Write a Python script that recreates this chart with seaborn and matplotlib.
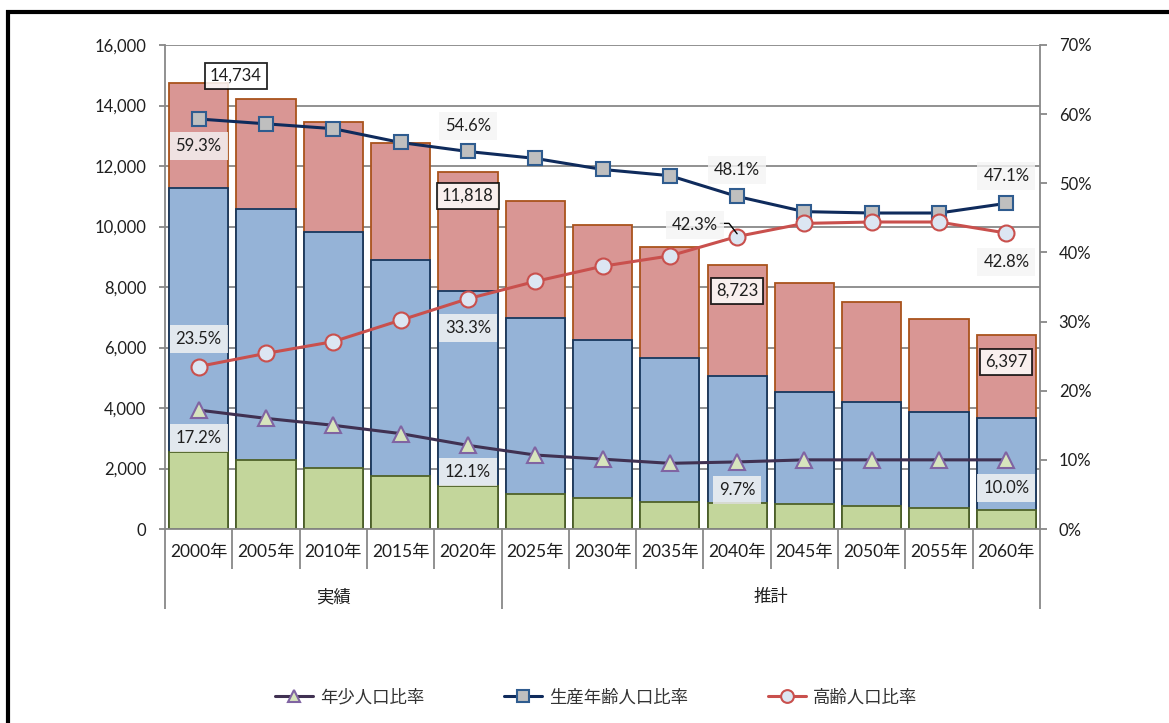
import numpy as np
import pandas as pd
import matplotlib
matplotlib.use("Agg")
import matplotlib.pyplot as plt
from matplotlib.lines import Line2D
from matplotlib.ticker import FuncFormatter, MultipleLocator
import seaborn as sns

# ---- data -------------------------------------------------------------
years = ["2000年", "2005年", "2010年", "2015年", "2020年", "2025年", "2030年",
         "2035年", "2040年", "2045年", "2050年", "2055年", "2060年"]
# population by age group (persons)
young = [2534, 2272, 2019, 1760, 1430, 1160, 1015, 886, 846, 812, 751, 693, 640]
working = [8737, 8321, 7793, 7140, 6453, 5810, 5226, 4768, 4196, 3727, 3432, 3167, 3013]
elderly = [3463, 3607, 3648, 3850, 3935, 3870, 3809, 3676, 3681, 3581, 3327, 3070, 2744]
# share of total population (%)
young_ratio = [17.2, 16.0, 15.0, 13.8, 12.1, 10.7, 10.1, 9.5, 9.7, 10.0, 10.0, 10.0, 10.0]
working_ratio = [59.3, 58.6, 57.9, 55.9, 54.6, 53.6, 52.0, 51.1, 48.1, 45.9, 45.7, 45.7, 47.1]
elderly_ratio = [23.5, 25.4, 27.1, 30.2, 33.3, 35.8, 38.0, 39.5, 42.3, 44.2, 44.4, 44.4, 42.8]
group_names = ["実績", "推計"]
group_spans = [(0, 4), (5, 12)]
series_names = ["年少人口比率", "生産年齢人口比率", "高齢人口比率"]

df = pd.DataFrame({
    "year": years,
    "young": young,
    "working": working,
    "elderly": elderly,
    "young_ratio": young_ratio,
    "working_ratio": working_ratio,
    "elderly_ratio": elderly_ratio,
})
df["idx"] = np.arange(len(df))
df["cum_working"] = df["young"] + df["working"]
df["total"] = df["cum_working"] + df["elderly"]

# ---- style ------------------------------------------------------------
sns.set_style("white")
plt.rcParams["font.family"] = ["Lato", "Noto Sans CJK JP", "DejaVu Sans"]
TXT = "#1f1f1f"
GRID = "#888888"

W, H = 1169, 723
fig = plt.figure(figsize=(W / 100, H / 100), dpi=100)
L, R, T, B = 165, 1040, 45, 529
ax = fig.add_axes([L / W, 1 - B / H, (R - L) / W, (B - T) / H])

# ---- stacked bars (drawn as cumulative overlays) ----------------------
bar_kw = dict(order=years, width=0.88, saturation=1, errorbar=None, ax=ax, linewidth=1.3)
sns.barplot(data=df, x="year", y="total", color="#D99694", edgecolor="#A9531C", **bar_kw)
sns.barplot(data=df, x="year", y="cum_working", color="#95B3D7", edgecolor="#17375E", **bar_kw)
sns.barplot(data=df, x="year", y="young", color="#C3D69B", edgecolor="#4F6228", **bar_kw)

ax.set_xlim(-0.5, len(years) - 0.5)
ax.set_ylim(0, 16000)
ax.yaxis.set_major_locator(MultipleLocator(2000))
ax.yaxis.set_major_formatter(FuncFormatter(lambda v, p: f"{int(v):,}"))
ax.set_axisbelow(True)
ax.yaxis.grid(True, color=GRID, linewidth=1.3)
ax.set_xlabel("")
ax.set_ylabel("")
for side in ["left", "bottom"]:
    ax.spines[side].set_color(GRID)
    ax.spines[side].set_linewidth(1.3)
for side in ["top", "right"]:
    ax.spines[side].set_visible(False)
ax.tick_params(axis="y", left=True, length=4, width=1.3, color=GRID,
               labelsize=12, labelcolor=TXT, pad=9.5)
ax.tick_params(axis="x", bottom=False, length=0, labelsize=12.5, labelcolor=TXT, pad=11)

# category separators and the two-level grouping below the axis
xt = ax.get_xaxis_transform()
row1 = -(569 - B) / (B - T)
row2 = -(609 - B) / (B - T)
for k in range(len(years) + 1):
    edge = k - 0.5
    is_group_edge = k in (0, group_spans[1][0], len(years))
    ax.plot([edge, edge], [0, row2 if is_group_edge else row1], transform=xt,
            color=GRID, linewidth=1.3, clip_on=False, solid_capstyle="butt")
for name, (a, b) in zip(group_names, group_spans):
    ax.text((a + b) / 2, -(597 - B) / (B - T), name, transform=xt,
            ha="center", va="center", fontsize=12.5, color=TXT)

# ---- ratio lines on the secondary axis --------------------------------
ax2 = ax.twinx()
line_styles = [
    ("young_ratio", dict(color="#403152", marker="^", markersize=11,
                         markerfacecolor="#D7E4BD", markeredgecolor="#8064A2")),
    ("working_ratio", dict(color="#0F2B5C", marker="s", markersize=10,
                           markerfacecolor="#BFBFBF", markeredgecolor="#2F5C8F")),
    ("elderly_ratio", dict(color="#C9504D", marker="o", markersize=11.5,
                           markerfacecolor="#DCE6F2", markeredgecolor="#C9504D")),
]
for col, kw in line_styles:
    sns.lineplot(data=df, x="idx", y=col, ax=ax2, linewidth=2.2,
                 markeredgewidth=1.5, **kw)
ax2.set_xlim(-0.5, len(years) - 0.5)
ax2.set_ylim(0, 70)
ax2.yaxis.set_major_locator(MultipleLocator(10))
ax2.yaxis.set_major_formatter(FuncFormatter(lambda v, p: f"{int(v)}%"))
ax2.set_ylabel("")
ax2.set_xlabel("")
for side in ["left", "top", "bottom"]:
    ax2.spines[side].set_visible(False)
ax2.spines["right"].set_color(GRID)
ax2.spines["right"].set_linewidth(1.3)
ax2.tick_params(axis="y", right=True, length=5, width=1.3, color=GRID,
                labelsize=12, labelcolor=TXT, pad=8.5)

# ---- data labels ------------------------------------------------------
pct_box = dict(boxstyle="square,pad=0.35", facecolor="#F4F4F4", edgecolor="none", alpha=0.82)
pct_labels = [  # (series, index, x, y on % axis)
    ("working_ratio", 0, 0.0, 55.4), ("elderly_ratio", 0, 0.0, 27.5), ("young_ratio", 0, 0.0, 13.2),
    ("working_ratio", 4, 4.0, 58.3), ("elderly_ratio", 4, 4.0, 29.1), ("young_ratio", 4, 4.0, 8.2),
    ("working_ratio", 8, 8.0, 51.9), ("elderly_ratio", 8, 7.37, 44.0), ("young_ratio", 8, 8.0, 5.6),
    ("working_ratio", 12, 12.0, 51.1), ("elderly_ratio", 12, 12.0, 38.6), ("young_ratio", 12, 12.0, 5.9),
]
for col, i, x, y in pct_labels:
    ax2.text(x, y, f"{df[col].iloc[i]:.1f}%", ha="center", va="center",
             fontsize=12, color=TXT, bbox=pct_box, zorder=6)

# leader line from the 2040 elderly label to its marker
ax2.plot([7.75, 7.88, 8.0], [44.2, 44.2, df["elderly_ratio"].iloc[8] + 0.4],
         color="black", linewidth=1.0, zorder=5)

total_box = dict(boxstyle="square,pad=0.3", facecolor="white", edgecolor="black",
                 linewidth=1.3, alpha=0.85)
total_labels = [(0, 0.55, 14980), (4, 4.0, 11010), (8, 8.0, 7870), (12, 12.0, 5520)]
for i, x, y in total_labels:
    ax2.text(x, y, f"{int(df['total'].iloc[i]):,}", transform=ax.transData,
             ha="center", va="center", fontsize=12, color=TXT, bbox=total_box, zorder=7)

# ---- legend -----------------------------------------------------------
legend_handles = []
for _, kw in line_styles:
    hk = dict(kw)
    hk["markersize"] = kw["markersize"] * 0.8
    legend_handles.append(Line2D([0], [0], linewidth=2.2, markeredgewidth=1.5, **hk))
fig.legend(legend_handles, series_names, loc="center", bbox_to_anchor=(596 / W, 1 - 697 / H),
           ncol=3, frameon=False, fontsize=12.5, handlelength=2.2, handletextpad=0.4,
           columnspacing=4.6, labelcolor="#333333")

# ---- outer frame (top and left edges) ---------------------------------
fig.add_artist(Line2D([6 / W, 1.0], [1 - 11.5 / H, 1 - 11.5 / H], color="black",
                      linewidth=3, solid_capstyle="butt"))
fig.add_artist(Line2D([8 / W, 8 / W], [0, 1 - 9.5 / H], color="black",
                      linewidth=3, solid_capstyle="butt"))

fig.savefig("out.png", dpi=100)
